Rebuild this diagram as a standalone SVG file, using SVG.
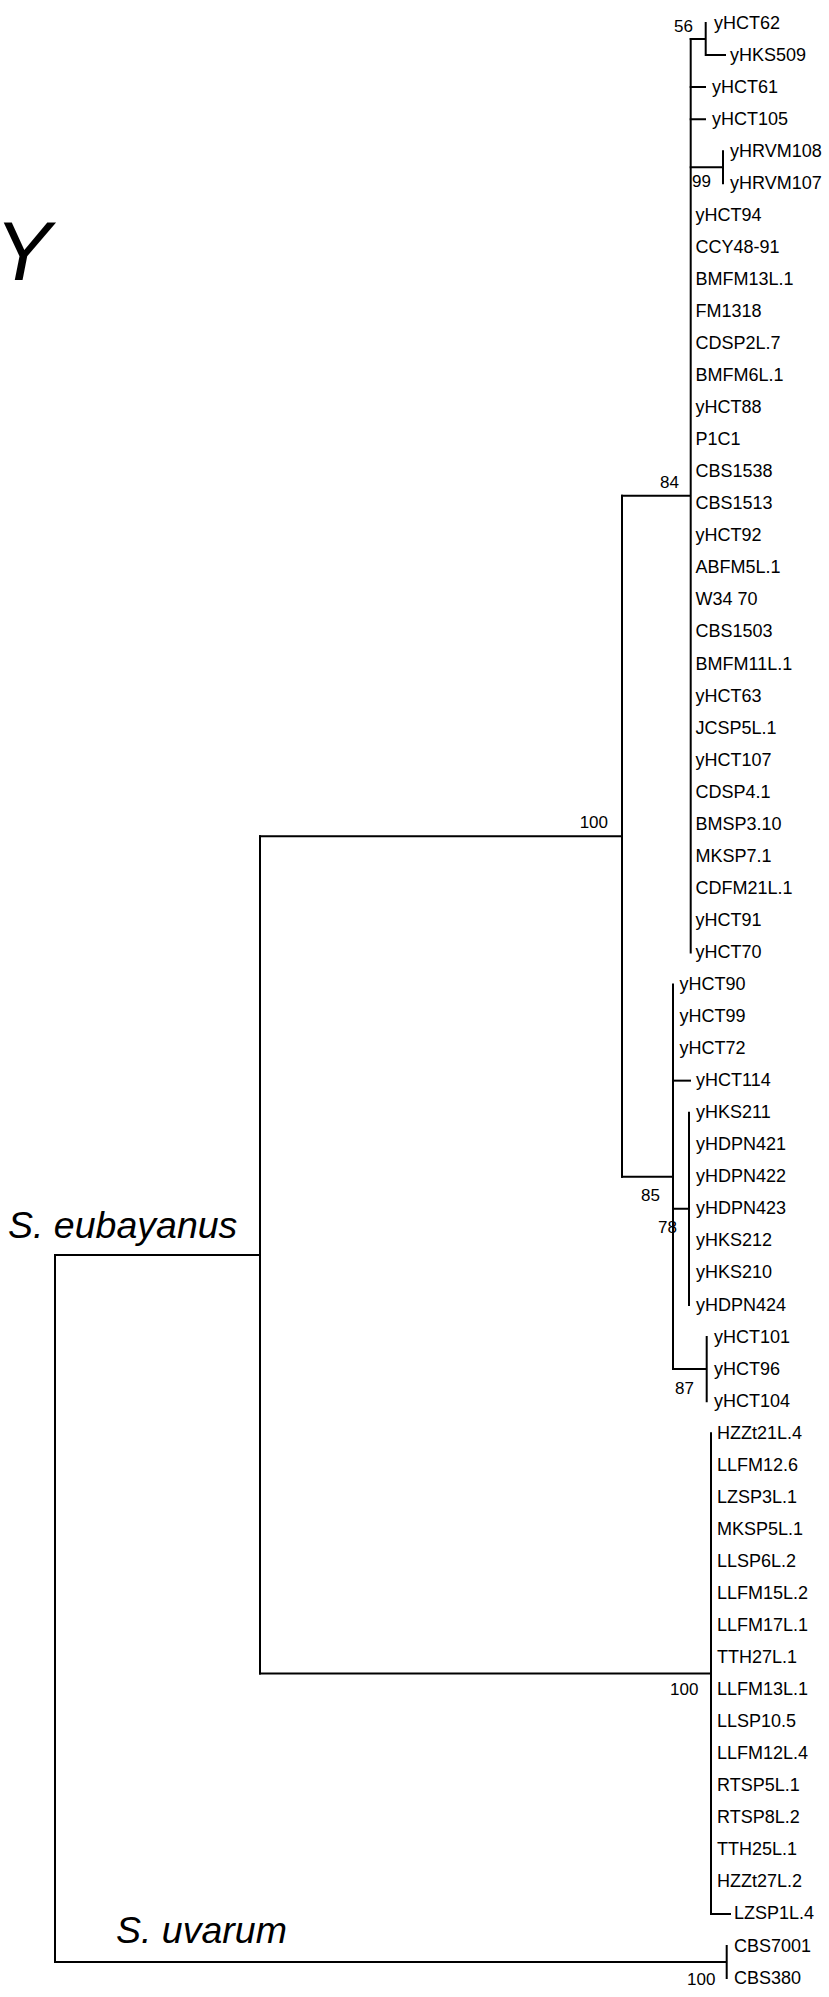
<svg xmlns="http://www.w3.org/2000/svg" width="829" height="1997" viewBox="0 0 829 1997">
<style>
.e{stroke:#000;stroke-width:2;fill:none;stroke-linecap:square}
.l{font-family:"Liberation Sans",Arial,sans-serif;font-size:18px;fill:#000}
.b{font-family:"Liberation Sans",Arial,sans-serif;font-size:17px;fill:#000}
.s{font-family:"Liberation Sans",Arial,sans-serif;font-style:italic;font-size:37.5px;fill:#000}
</style>
<rect width="829" height="1997" fill="#fff"/>
<g id="connectors">
<path class="e" d="M705.7,23V55.05H725M690.7,39H705.7"/>
<path class="e" d="M690.7,87.1H705M690.7,119.15H705"/>
<path class="e" d="M723,151.2V183.25M690.7,167.2H723"/>
<path class="e" d="M690.7,39V952.45M622,495.7H690.7"/>
<path class="e" d="M673,1080.65H690"/>
<path class="e" d="M689,1112.7V1305M673,1208.85H689"/>
<path class="e" d="M706.7,1337.05V1401.15M673,1369.1H706.7"/>
<path class="e" d="M673,984.5V1369.1M622,1176.8H673"/>
<path class="e" d="M622,495.7V1176.8M260,836.25H622"/>
<path class="e" d="M711,1433.2V1913.95H730M260,1673.6H711"/>
<path class="e" d="M260,836.25V1673.6M55,1254.9H260"/>
<path class="e" d="M726.7,1946V1978.05M55,1962H726.7"/>
<path class="e" d="M55,1254.9V1962"/>
</g>
<g id="labels-support">
<text class="b" x="693" y="32" text-anchor="end">56</text>
<text class="b" x="692" y="187">99</text>
<text class="b" x="679" y="488" text-anchor="end">84</text>
<text class="b" x="608" y="828" text-anchor="end">100</text>
<text class="b" x="641" y="1201">85</text>
<text class="b" x="658" y="1233">78</text>
<text class="b" x="675" y="1394">87</text>
<text class="b" x="670" y="1695">100</text>
<text class="b" x="687" y="1985">100</text>
</g>
<g id="clade-names">
<text class="s" x="-5" y="280" style="font-size:84px">Y</text>
<text class="s" x="8" y="1238">S. eubayanus</text>
<text class="s" x="116" y="1943">S. uvarum</text>
</g>
<g id="leaves" class="l">
<text x="714" y="28.5">yHCT62</text>
<text x="730" y="60.55">yHKS509</text>
<text x="712" y="92.6">yHCT61</text>
<text x="712" y="124.65">yHCT105</text>
<text x="730" y="156.7">yHRVM108</text>
<text x="730" y="188.75">yHRVM107</text>
<text x="695.5" y="220.8">yHCT94</text>
<text x="695.5" y="252.85">CCY48-91</text>
<text x="695.5" y="284.9">BMFM13L.1</text>
<text x="695.5" y="316.95">FM1318</text>
<text x="695.5" y="349">CDSP2L.7</text>
<text x="695.5" y="381.05">BMFM6L.1</text>
<text x="695.5" y="413.1">yHCT88</text>
<text x="695.5" y="445.15">P1C1</text>
<text x="695.5" y="477.2">CBS1538</text>
<text x="695.5" y="509.25">CBS1513</text>
<text x="695.5" y="541.3">yHCT92</text>
<text x="695.5" y="573.35">ABFM5L.1</text>
<text x="695.5" y="605.4">W34 70</text>
<text x="695.5" y="637.45">CBS1503</text>
<text x="695.5" y="669.5">BMFM11L.1</text>
<text x="695.5" y="701.55">yHCT63</text>
<text x="695.5" y="733.6">JCSP5L.1</text>
<text x="695.5" y="765.65">yHCT107</text>
<text x="695.5" y="797.7">CDSP4.1</text>
<text x="695.5" y="829.75">BMSP3.10</text>
<text x="695.5" y="861.8">MKSP7.1</text>
<text x="695.5" y="893.85">CDFM21L.1</text>
<text x="695.5" y="925.9">yHCT91</text>
<text x="695.5" y="957.95">yHCT70</text>
<text x="679.5" y="990">yHCT90</text>
<text x="679.5" y="1022.05">yHCT99</text>
<text x="679.5" y="1054.1">yHCT72</text>
<text x="696" y="1086.15">yHCT114</text>
<text x="696" y="1118.2">yHKS211</text>
<text x="696" y="1150.25">yHDPN421</text>
<text x="696" y="1182.3">yHDPN422</text>
<text x="696" y="1214.35">yHDPN423</text>
<text x="696" y="1246.4">yHKS212</text>
<text x="696" y="1278.45">yHKS210</text>
<text x="696" y="1310.5">yHDPN424</text>
<text x="714" y="1342.55">yHCT101</text>
<text x="714" y="1374.6">yHCT96</text>
<text x="714" y="1406.65">yHCT104</text>
<text x="717" y="1438.7">HZZt21L.4</text>
<text x="717" y="1470.75">LLFM12.6</text>
<text x="717" y="1502.8">LZSP3L.1</text>
<text x="717" y="1534.85">MKSP5L.1</text>
<text x="717" y="1566.9">LLSP6L.2</text>
<text x="717" y="1598.95">LLFM15L.2</text>
<text x="717" y="1631">LLFM17L.1</text>
<text x="717" y="1663.05">TTH27L.1</text>
<text x="717" y="1695.1">LLFM13L.1</text>
<text x="717" y="1727.15">LLSP10.5</text>
<text x="717" y="1759.2">LLFM12L.4</text>
<text x="717" y="1791.25">RTSP5L.1</text>
<text x="717" y="1823.3">RTSP8L.2</text>
<text x="717" y="1855.35">TTH25L.1</text>
<text x="717" y="1887.4">HZZt27L.2</text>
<text x="734" y="1919.45">LZSP1L.4</text>
<text x="734" y="1951.5">CBS7001</text>
<text x="734" y="1983.55">CBS380</text>
</g>
</svg>
